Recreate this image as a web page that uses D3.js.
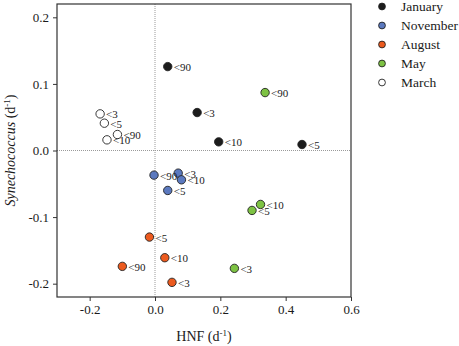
<!DOCTYPE html>
<html lang="en">
<head>
    <meta charset="UTF-8">
    <title>HNF vs Synechococcus</title>
    <script src="https://d3js.org/d3.v7.min.js"></script>
    <style>
        body { margin: 0; background: #fff; }
        svg text { font-family: "Liberation Serif", "Times New Roman", serif; fill: #1a1a1a; }
        .tick line { stroke: #333; }
    </style>
</head>
<body>
    <svg width="459" height="346"></svg>

    <script>
        // Data (HNF growth vs Synechococcus growth, d-1)
        const months = ["January", "November", "August", "May", "March"];
        const colors = ["#1c1c1c", "#5b79bf", "#ec5a1e", "#7dc243", "#ffffff"];

        const janHNF = [0.039, 0.129, 0.195, 0.450];
        const janSyn = [0.126, 0.057, 0.013, 0.009];
        const janLab = ["<90", "<3", "<10", "<5"];

        const novHNF = [-0.003, 0.071, 0.081, 0.039];
        const novSyn = [-0.037, -0.034, -0.044, -0.060];
        const novLab = ["<90", "<3", "<10", "<5"];

        const augHNF = [-0.017, 0.030, -0.100, 0.052];
        const augSyn = [-0.130, -0.161, -0.174, -0.198];
        const augLab = ["<5", "<10", "<90", "<3"];

        const mayHNF = [0.337, 0.323, 0.297, 0.243];
        const maySyn = [0.087, -0.081, -0.090, -0.177];
        const mayLab = ["<90", "<10", "<5", "<3"];

        const marHNF = [-0.168, -0.155, -0.115, -0.147];
        const marSyn = [0.055, 0.041, 0.024, 0.016];
        const marLab = ["<3", "<5", "<90", "<10"];

        const xTicks = [-0.2, 0.0, 0.2, 0.4, 0.6];
        const yTicks = [-0.2, -0.1, 0.0, 0.1, 0.2];

        const series = [
            [janHNF, janSyn, janLab],
            [novHNF, novSyn, novLab],
            [augHNF, augSyn, augLab],
            [mayHNF, maySyn, mayLab],
            [marHNF, marSyn, marLab]
        ];

        // flatten into point records
        const points = [];
        series.forEach(function(s, i) {
            s[0].forEach(function(v, j) {
                points.push({ month: months[i], color: colors[i], hnf: v, syn: s[1][j], label: s[2][j] });
            });
        });

        const plot = { left: 57, right: 351, top: 4, bottom: 297 };

        const svg = d3.select("svg");

        const x = d3.scaleLinear().domain([-0.3, 0.6]).range([plot.left, plot.right]);
        const y = d3.scaleLinear().domain([-0.22, 0.22]).range([plot.bottom, plot.top]);

        const fmt = function(d) { return d.toFixed(1); };

        // zero reference lines
        svg.append("line")
            .attr("x1", x(0)).attr("x2", x(0))
            .attr("y1", plot.top).attr("y2", plot.bottom)
            .attr("stroke", "#9a9a9a").attr("stroke-dasharray", "1,1");
        svg.append("line")
            .attr("x1", plot.left).attr("x2", plot.right)
            .attr("y1", y(0)).attr("y2", y(0))
            .attr("stroke", "#9a9a9a").attr("stroke-dasharray", "1,1");

        // axes
        const xAxis = svg.append("g")
            .attr("transform", "translate(0," + plot.bottom + ")")
            .call(d3.axisBottom(x).tickValues(xTicks).tickFormat(fmt).tickSize(4).tickPadding(4));
        const yAxis = svg.append("g")
            .attr("transform", "translate(" + plot.left + ",0)")
            .call(d3.axisLeft(y).tickValues(yTicks).tickFormat(fmt).tickSize(4).tickPadding(4));
        [xAxis, yAxis].forEach(function(a) {
            a.select(".domain").remove();
            a.selectAll("text").style("font-size", "13px").style("fill", "#1a1a1a");
        });

        // frame
        svg.append("rect")
            .attr("x", plot.left).attr("y", plot.top)
            .attr("width", plot.right - plot.left).attr("height", plot.bottom - plot.top)
            .attr("fill", "none").attr("stroke", "#333").attr("stroke-width", 1.2);

        // points
        svg.selectAll(".pt")
            .data(points)
            .enter()
            .append("circle")
            .attr("class", "pt")
            .attr("cx", function(d) { return x(d.hnf); })
            .attr("cy", function(d) { return y(d.syn); })
            .attr("r", 4.2)
            .attr("fill", function(d) { return d.color; })
            .attr("stroke", "#222")
            .attr("stroke-width", 0.9);

        // point labels
        svg.selectAll(".lab")
            .data(points)
            .enter()
            .append("text")
            .attr("class", "lab")
            .attr("x", function(d) { return x(d.hnf) + 6; })
            .attr("y", function(d) { return y(d.syn) + 4.5; })
            .style("font-size", "11px")
            .text(function(d) { return d.label; });

        // axis titles
        const xt = svg.append("text")
            .attr("x", (plot.left + plot.right) / 2)
            .attr("y", 341)
            .attr("text-anchor", "middle")
            .style("font-size", "14px");
        xt.append("tspan").text("HNF (d");
        xt.append("tspan").attr("dy", -5).style("font-size", "9px").text("-1");
        xt.append("tspan").attr("dy", 5).text(")");

        const yt = svg.append("text")
            .attr("transform", "translate(15," + (plot.top + plot.bottom) / 2 + ") rotate(-90)")
            .attr("text-anchor", "middle")
            .style("font-size", "14px");
        yt.append("tspan").style("font-style", "italic").text("Synechococcus");
        yt.append("tspan").text(" (d");
        yt.append("tspan").attr("dy", -5).style("font-size", "9px").text("-1");
        yt.append("tspan").attr("dy", 5).text(")");

        // legend
        const legend = svg.append("g");
        months.forEach(function(m, i) {
            const row = legend.append("g").attr("transform", "translate(382," + (6.5 + i * 19) + ")");
            row.append("circle")
                .attr("r", 3.4)
                .attr("fill", colors[i])
                .attr("stroke", "#222")
                .attr("stroke-width", 0.9);
            row.append("text")
                .attr("x", 19)
                .attr("y", 4.5)
                .style("font-size", "13.5px")
                .text(m);
        });
    </script>
</body>
</html>
